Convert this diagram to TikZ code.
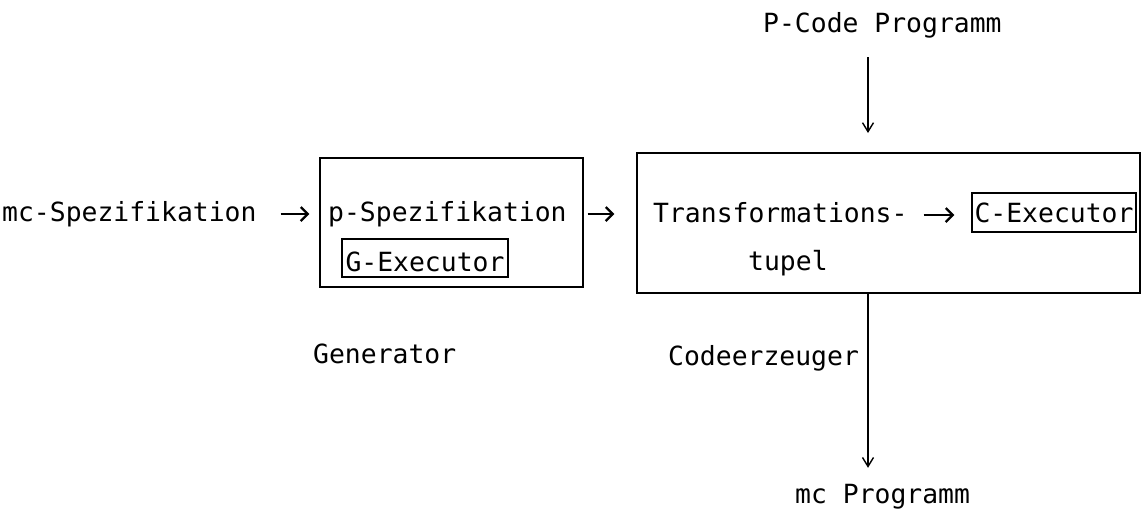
\documentclass[tikz,border=0pt]{standalone}
\usepackage{fontspec}
\setmonofont{DejaVu Sans Mono}
\usetikzlibrary{arrows.meta}

\begin{document}
\begin{tikzpicture}[x=1pt, y=-1pt,
  lbl/.style={font=\ttfamily\fontsize{26.4pt}{30pt}\selectfont, inner sep=0pt,
              anchor=base west, text height=19pt, text depth=5pt},
  frame/.style={draw, line width=1.4pt, inner sep=0pt},
  exbox/.style={frame, font=\ttfamily\fontsize{26.4pt}{30pt}\selectfont},
  arr/.style={line width=2.4pt, -{Straight Barb[length=7pt, width=14pt, line width=2.2pt]}},
  varr/.style={line width=1.4pt, -{Straight Barb[length=9pt, width=11pt, line width=1.4pt]}}
]
\useasboundingbox (0,0) rectangle (1141,515);

% outer blocks: generator and code generator
\node[frame, minimum width=263pt, minimum height=129pt] (gen) at (451.5,222.5) {};
\node[frame, minimum width=503pt, minimum height=140pt] (cod) at (888.5,223) {};

% executors inside the blocks
\node[exbox, minimum width=166pt, minimum height=38pt, text height=26pt, text depth=0pt]
  (gex) at (425,258) {G-Executor};
\node[exbox, minimum width=164pt, minimum height=39pt, text height=19pt, text depth=0pt]
  (cex) at (1054,212.5) {C-Executor};

% texts
\node[lbl] (mc)     at (2,221)   {mc-Spezifikation};
\node[lbl] (pspec)  at (328,221) {p-Spezifikation};
\node[lbl] (trans)  at (653,222) {Transformations-};
\node[lbl] (tupel)  at (748,270) {tupel};
\node[lbl] (genl)   at (313,363) {Generator};
\node[lbl] (codl)   at (668,365) {Codeerzeuger};
\node[lbl] (pcode)  at (763,32)  {P-Code Programm};
\node[lbl] (mcprog) at (795,503) {mc Programm};

% entry and exit points of the code generator
\coordinate (cin)  at (868,153);
\coordinate (cout) at (868,293);

% horizontal flow
\draw[arr, shorten <=24pt, shorten >=10pt] (mc.east) -- (mc.east -| gen.west);
\draw[arr, shorten <=4pt, shorten >=22pt] (pspec.east -| gen.east) -- (pspec.east -| cod.west);
\draw[arr, shorten <=16pt, shorten >=17pt] (trans.east) -- (trans.east -| cex.west);

% vertical flow
\draw[varr, shorten <=20pt, shorten >=20pt] (pcode.south -| cin) -- (cin);
\draw[varr, shorten >=16pt] (cout) -- (mcprog.north -| cout);
\end{tikzpicture}
\end{document}
